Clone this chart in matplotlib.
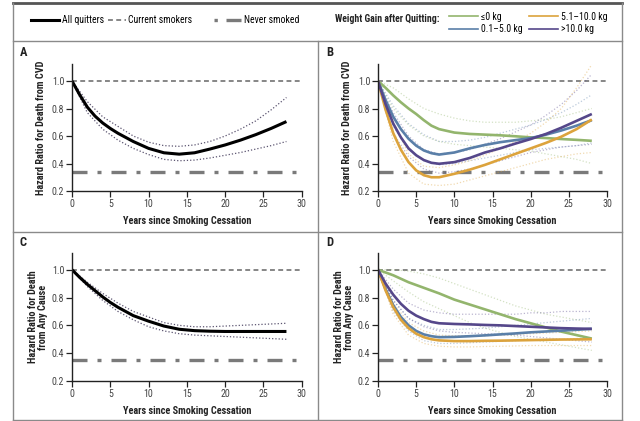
import matplotlib
matplotlib.use('Agg')
import matplotlib.pyplot as plt
from matplotlib.lines import Line2D
import logging

logging.getLogger('matplotlib.font_manager').setLevel(logging.ERROR)
plt.rcParams['font.family'] = ['Roboto Condensed', 'Lato', 'DejaVu Sans']

# x grid for the fitted curves and for the confidence bands
years = [0, 1, 2, 3, 4, 5, 6, 7, 8, 10, 12, 14, 16, 18, 20, 22, 24, 26, 28]
ci_years = [0, 2, 4, 6, 8, 10, 12, 14, 16, 18, 20, 22, 24, 26, 28]

# Panel A - CVD death, all quitters
cvd_all = [1.0, 0.9, 0.81, 0.745, 0.695, 0.655, 0.62, 0.59, 0.56, 0.51, 0.478, 0.468,
           0.478, 0.505, 0.535, 0.57, 0.61, 0.655, 0.705]
cvd_all_hi = [1.0, 0.85, 0.74, 0.67, 0.60, 0.555, 0.53, 0.525, 0.535, 0.56, 0.60, 0.65, 0.71, 0.79, 0.88]
cvd_all_lo = [1.0, 0.77, 0.65, 0.57, 0.51, 0.465, 0.43, 0.42, 0.425, 0.44, 0.46, 0.48, 0.505, 0.53, 0.56]

# Panel B - CVD death by weight gain
cvd_le0 = [1.0, 0.95, 0.895, 0.845, 0.80, 0.76, 0.715, 0.675, 0.65, 0.625, 0.615, 0.61,
           0.605, 0.598, 0.59, 0.585, 0.578, 0.572, 0.565]
cvd_0_5 = [1.0, 0.86, 0.74, 0.65, 0.58, 0.53, 0.495, 0.475, 0.465, 0.48, 0.51, 0.535,
           0.555, 0.57, 0.585, 0.61, 0.64, 0.675, 0.715]
cvd_5_10 = [1.0, 0.79, 0.62, 0.50, 0.41, 0.35, 0.315, 0.30, 0.30, 0.325, 0.355, 0.39,
            0.43, 0.47, 0.51, 0.55, 0.595, 0.65, 0.72]
cvd_gt10 = [1.0, 0.83, 0.69, 0.59, 0.51, 0.46, 0.425, 0.405, 0.398, 0.41, 0.44, 0.48,
            0.51, 0.545, 0.578, 0.615, 0.66, 0.71, 0.76]
cvd_le0_hi = [1.0, 0.95, 0.87, 0.80, 0.76, 0.73, 0.71, 0.70, 0.70, 0.70, 0.71, 0.72, 0.74, 0.77, 0.80]
cvd_le0_lo = [1.0, 0.80, 0.68, 0.60, 0.56, 0.54, 0.53, 0.52, 0.51, 0.50, 0.49, 0.47, 0.45, 0.43, 0.40]
cvd_0_5_hi = [1.0, 0.82, 0.69, 0.61, 0.56, 0.56, 0.57, 0.59, 0.62, 0.65, 0.68, 0.72, 0.77, 0.83, 0.90]
cvd_0_5_lo = [1.0, 0.67, 0.50, 0.42, 0.39, 0.40, 0.42, 0.44, 0.46, 0.48, 0.50, 0.51, 0.52, 0.53, 0.55]
cvd_5_10_hi = [1.0, 0.70, 0.47, 0.38, 0.37, 0.39, 0.42, 0.46, 0.51, 0.56, 0.62, 0.70, 0.80, 0.95, 1.12]
cvd_5_10_lo = [1.0, 0.56, 0.33, 0.25, 0.24, 0.25, 0.28, 0.31, 0.34, 0.37, 0.40, 0.43, 0.45, 0.47, 0.48]
cvd_gt10_hi = [1.0, 0.77, 0.60, 0.50, 0.47, 0.48, 0.50, 0.54, 0.58, 0.63, 0.68, 0.75, 0.83, 0.93, 1.05]
cvd_gt10_lo = [1.0, 0.62, 0.45, 0.36, 0.33, 0.34, 0.36, 0.39, 0.42, 0.45, 0.48, 0.50, 0.52, 0.53, 0.54]

# Panel C - death from any cause, all quitters
any_all = [1.0, 0.945, 0.895, 0.85, 0.805, 0.765, 0.73, 0.70, 0.67, 0.63, 0.595, 0.572,
           0.562, 0.558, 0.556, 0.556, 0.556, 0.556, 0.556]
any_all_hi = [1.0, 0.91, 0.83, 0.76, 0.70, 0.66, 0.62, 0.60, 0.59, 0.59, 0.595, 0.60, 0.605, 0.61, 0.615]
any_all_lo = [1.0, 0.88, 0.78, 0.70, 0.64, 0.59, 0.56, 0.54, 0.53, 0.525, 0.52, 0.515, 0.51, 0.505, 0.50]

# Panel D - death from any cause by weight gain
any_le0 = [1.0, 0.98, 0.96, 0.935, 0.91, 0.89, 0.87, 0.85, 0.83, 0.785, 0.75, 0.715,
           0.68, 0.645, 0.615, 0.585, 0.555, 0.53, 0.505]
any_0_5 = [1.0, 0.86, 0.745, 0.66, 0.60, 0.56, 0.535, 0.522, 0.515, 0.517, 0.522, 0.528,
           0.535, 0.542, 0.55, 0.556, 0.562, 0.568, 0.575]
any_5_10 = [1.0, 0.85, 0.73, 0.64, 0.58, 0.54, 0.515, 0.50, 0.492, 0.487, 0.487, 0.489,
            0.49, 0.492, 0.494, 0.496, 0.498, 0.499, 0.50]
any_gt10 = [1.0, 0.90, 0.82, 0.755, 0.705, 0.67, 0.645, 0.625, 0.615, 0.61, 0.607, 0.603,
            0.60, 0.595, 0.59, 0.585, 0.58, 0.577, 0.575]
any_le0_hi = [1.0, 1.0, 0.99, 0.97, 0.94, 0.90, 0.86, 0.82, 0.78, 0.74, 0.71, 0.68, 0.66, 0.64, 0.62]
any_le0_lo = [1.0, 0.92, 0.84, 0.77, 0.72, 0.67, 0.62, 0.58, 0.55, 0.52, 0.50, 0.48, 0.46, 0.44, 0.42]
any_0_5_hi = [1.0, 0.78, 0.65, 0.60, 0.57, 0.57, 0.575, 0.58, 0.59, 0.60, 0.61, 0.62, 0.63, 0.64, 0.65]
any_0_5_lo = [1.0, 0.70, 0.56, 0.49, 0.47, 0.47, 0.475, 0.48, 0.485, 0.49, 0.495, 0.50, 0.50, 0.505, 0.51]
any_5_10_hi = [1.0, 0.76, 0.62, 0.56, 0.53, 0.525, 0.525, 0.525, 0.53, 0.535, 0.54, 0.545, 0.55, 0.555, 0.56]
any_5_10_lo = [1.0, 0.68, 0.53, 0.47, 0.45, 0.445, 0.445, 0.448, 0.45, 0.452, 0.455, 0.455, 0.455, 0.455, 0.455]
any_gt10_hi = [1.0, 0.86, 0.76, 0.71, 0.69, 0.68, 0.68, 0.68, 0.68, 0.68, 0.69, 0.69, 0.70, 0.70, 0.70]
any_gt10_lo = [1.0, 0.78, 0.65, 0.59, 0.56, 0.55, 0.545, 0.54, 0.535, 0.53, 0.52, 0.51, 0.50, 0.49, 0.48]

current_smokers = 1.0
never_smoked_cvd = 0.34
never_smoked_any = 0.35

group_labels = ['\u22640 kg', '0.1\u20135.0 kg', '5.1\u201310.0 kg', '>10.0 kg']
group_colors = ['#93b56d', '#5a7fa8', '#dca33c', '#55478a']

DASH_CUR = (0, (3.2, 2.2))
DASHDOT_NEVER = (0, (4.5, 3, 1.2, 3))
GRAY = '#7a7a7a'


def style_axes(ax, ylabel):
    ax.set_xlim(0, 30)
    ax.set_ylim(0.2, 1.12)
    ax.set_xticks(range(0, 31, 5))
    ax.set_yticks([0.2, 0.4, 0.6, 0.8, 1.0])
    ax.set_yticklabels(['0.2', '0.4', '0.6', '0.8', '1.0'])
    for s in ['top', 'right']:
        ax.spines[s].set_visible(False)
    for s in ['left', 'bottom']:
        ax.spines[s].set_linewidth(1.0)
        ax.spines[s].set_color('#222222')
    ax.tick_params(direction='out', length=4, width=0.9, labelsize=7.2,
                   labelcolor='#444444', color='#222222', pad=1.5)
    ax.set_xlabel('Years since Smoking Cessation', fontsize=7.4, fontweight='bold',
                  color='#222222', labelpad=5)
    ax.set_ylabel(ylabel, fontsize=7.4, fontweight='bold', color='#222222',
                  linespacing=1.0)


def reference_lines(ax, never):
    ax.axhline(current_smokers, color='#666666', lw=1.1, ls=DASH_CUR)
    ax.axhline(never, color=GRAY, lw=2.4, ls=DASHDOT_NEVER)


def plot_single(ax, main, hi, lo):
    ax.plot(ci_years, hi, color='#5b5470', lw=0.9, ls=(0, (1, 1.6)))
    ax.plot(ci_years, lo, color='#5b5470', lw=0.9, ls=(0, (1, 1.6)))
    ax.plot(years, main, color='black', lw=2.2, solid_capstyle='butt')


def plot_groups(ax, mains, his, los):
    for hi, lo, c in zip(his, los, group_colors):
        ax.plot(ci_years, hi, color=c, lw=0.9, ls=(0, (1, 1.6)), alpha=0.4)
        ax.plot(ci_years, lo, color=c, lw=0.9, ls=(0, (1, 1.6)), alpha=0.4)
    for m, c in zip(mains, group_colors):
        ax.plot(years, m, color=c, lw=1.9, solid_capstyle='butt')


fig = plt.figure(figsize=(6.4, 4.21), dpi=100)

ax_a = fig.add_axes([0.1125, 0.5463, 0.359, 0.3005])
ax_b = fig.add_axes([0.5906, 0.5463, 0.358, 0.3005])
ax_c = fig.add_axes([0.1125, 0.0950, 0.359, 0.3040])
ax_d = fig.add_axes([0.5906, 0.0950, 0.358, 0.3040])

reference_lines(ax_a, never_smoked_cvd)
plot_single(ax_a, cvd_all, cvd_all_hi, cvd_all_lo)
style_axes(ax_a, 'Hazard Ratio for Death from CVD')

reference_lines(ax_b, never_smoked_cvd)
plot_groups(ax_b, [cvd_le0, cvd_0_5, cvd_5_10, cvd_gt10],
            [cvd_le0_hi, cvd_0_5_hi, cvd_5_10_hi, cvd_gt10_hi],
            [cvd_le0_lo, cvd_0_5_lo, cvd_5_10_lo, cvd_gt10_lo])
style_axes(ax_b, 'Hazard Ratio for Death from CVD')

reference_lines(ax_c, never_smoked_any)
plot_single(ax_c, any_all, any_all_hi, any_all_lo)
style_axes(ax_c, 'Hazard Ratio for Death\nfrom Any Cause')

reference_lines(ax_d, never_smoked_any)
plot_groups(ax_d, [any_le0, any_0_5, any_5_10, any_gt10],
            [any_le0_hi, any_0_5_hi, any_5_10_hi, any_gt10_hi],
            [any_le0_lo, any_0_5_lo, any_5_10_lo, any_gt10_lo])
style_axes(ax_d, 'Hazard Ratio for Death\nfrom Any Cause')

for ax in (ax_a, ax_b):
    ax.yaxis.set_label_coords(-0.115, 0.5)
for ax in (ax_c, ax_d):
    ax.yaxis.set_label_coords(-0.105, 0.5)

# panel frame
frame = dict(color='#8a8a8a', lw=1.0, transform=fig.transFigure)
L, R, T, B = 13 / 640, 622 / 640, 1 - 3 / 421, 1 - 420 / 421
leg_bot = 1 - 41 / 421
mid_y = 1 - 232 / 421
mid_x = 318 / 640
fig.add_artist(Line2D([L, R], [T, T], color='#555555', lw=2.0, transform=fig.transFigure))
fig.add_artist(Line2D([L, L], [T, B], **frame))
fig.add_artist(Line2D([R, R], [T, B], **frame))
fig.add_artist(Line2D([L, R], [B, B], **frame))
fig.add_artist(Line2D([L, R], [leg_bot, leg_bot], **frame))
fig.add_artist(Line2D([L, R], [mid_y, mid_y], **frame))
fig.add_artist(Line2D([mid_x, mid_x], [leg_bot, B], **frame))

for letter, x, y in [('A', 20, 52), ('B', 326, 52), ('C', 20, 242), ('D', 326, 242)]:
    fig.text(x / 640, 1 - y / 421, letter, fontsize=9, fontweight='bold',
             ha='left', va='center', color='#222222')

# legend for the reference groups, one small legend per entry
left_items = [
    (Line2D([], [], color='black', lw=2.2), 'All quitters', 31, 2.9),
    (Line2D([], [], color='#666666', lw=1.1, ls=DASH_CUR), 'Current smokers', 108, 1.8),
    (Line2D([], [], color=GRAY, lw=2.4, ls=(0, (1.0, 2.6, 4.5, 2.6))), 'Never smoked', 214, 2.8),
]
for handle, label, x0, hl in left_items:
    fig.legend([handle], [label], loc='center left',
               bbox_to_anchor=(x0 / 640, 1 - 20 / 421), frameon=False, fontsize=7,
               handlelength=hl, handletextpad=0.25, borderaxespad=0, borderpad=0)

fig.text(335 / 640, 1 - 19 / 421, 'Weight Gain after Quitting:', fontsize=7,
         fontweight='bold', ha='left', va='center', color='#222222')
h_groups = [Line2D([], [], color=c, lw=1.2) for c in group_colors]
fig.legend(h_groups, group_labels, loc='center left',
           bbox_to_anchor=(449 / 640, 1 - 23 / 421), ncol=2, frameon=False,
           fontsize=7, handlelength=3.0, handletextpad=0.3, columnspacing=0.6,
           labelspacing=0.25, borderaxespad=0, borderpad=0)

fig.savefig('out.png', dpi=100)
